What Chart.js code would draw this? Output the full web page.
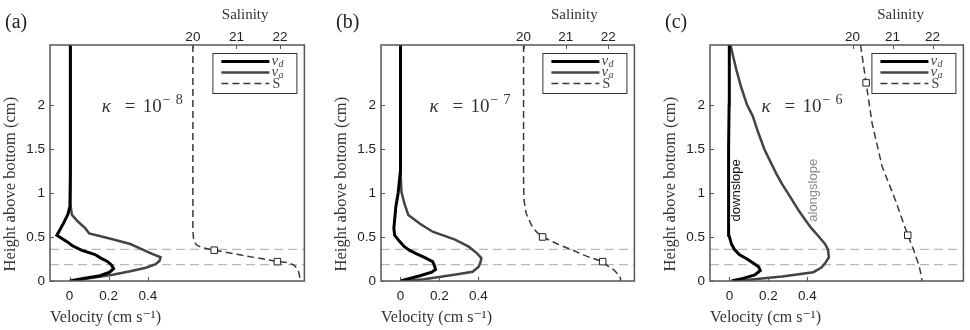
<!DOCTYPE html>
<html><head><meta charset="utf-8">
<script src="https://cdn.jsdelivr.net/npm/chart.js@4.4.1/dist/chart.umd.min.js"></script>
<style>
html,body{margin:0;padding:0;background:#fff;width:970px;height:330px;overflow:hidden}
canvas{position:absolute;top:0}
</style></head><body>
<canvas id="ca" width="310" height="330" style="left:0px"></canvas>
<canvas id="cb" width="309" height="330" style="left:331px"></canvas>
<canvas id="cc" width="309" height="330" style="left:660px"></canvas>
<script>
// ---------- tick labels ----------
const velTicks = [0, 0.2, 0.4];
const salTicks = [20, 21, 22];
const heightTicks = [0, 0.5, 1, 1.5, 2];
const layerHeights = [0.36, 0.185];

// ---------- panel (a), kappa = 1e-8 ----------
const vdA_h   = [0, 0.03, 0.06, 0.10, 0.14, 0.18, 0.22, 0.26, 0.30, 0.35, 0.40, 0.45, 0.52, 0.58, 0.66, 0.76, 0.85, 1.2, 2.68];
const vdA_vel = [0, 0.07, 0.155, 0.205, 0.225, 0.215, 0.195, 0.16, 0.13, 0.06, 0.015, -0.015, -0.065, -0.05, -0.03, -0.008, 0.002, 0.004, 0.004];
const vaA_h   = [0, 0.03, 0.07, 0.11, 0.15, 0.19, 0.23, 0.27, 0.32, 0.37, 0.42, 0.48, 0.54, 0.60, 0.67, 0.75, 0.86, 1.2, 2.68];
const vaA_vel = [0.02, 0.10, 0.22, 0.31, 0.39, 0.44, 0.46, 0.465, 0.41, 0.36, 0.31, 0.21, 0.10, 0.08, 0.045, 0.012, 0.005, 0.004, 0.004];
const sA_h    = [2.68, 0.6, 0.5, 0.45, 0.41, 0.38, 0.35, 0.30, 0.26, 0.22, 0.21, 0.18, 0.14, 0.10, 0.05, 0];
const sA_sal  = [20.0, 20.0, 20.01, 20.03, 20.08, 20.2, 20.49, 21.05, 21.5, 21.94, 22.17, 22.32, 22.4, 22.43, 22.45, 22.46];
const mA_h    = [0.35, 0.22];
const mA_sal  = [20.49, 21.94];

// ---------- panel (b), kappa = 1e-7 ----------
const vdB_h   = [0, 0.06, 0.10, 0.13, 0.17, 0.22, 0.27, 0.31, 0.35, 0.39, 0.45, 0.52, 0.6, 0.84, 1.0, 1.26, 2.68];
const vdB_vel = [0, 0.10, 0.16, 0.18, 0.175, 0.165, 0.12, 0.08, 0.045, 0.02, -0.005, -0.03, -0.034, -0.024, -0.012, 0, 0];
const vaB_h   = [0, 0.02, 0.05, 0.08, 0.105, 0.16, 0.21, 0.26, 0.32, 0.39, 0.47, 0.56, 0.65, 0.75, 0.88, 1.01, 1.26, 2.68];
const vaB_vel = [0.03, 0.12, 0.216, 0.30, 0.37, 0.40, 0.41, 0.415, 0.39, 0.35, 0.28, 0.165, 0.10, 0.04, 0.02, 0.005, 0, 0];
const sB_h    = [2.68, 1.1, 0.92, 0.77, 0.64, 0.56, 0.50, 0.42, 0.35, 0.28, 0.22, 0.16, 0.125, 0.05, 0];
const sB_sal  = [20.0, 20.0, 20.01, 20.06, 20.18, 20.30, 20.45, 20.8, 21.16, 21.5, 21.87, 22.02, 22.14, 22.28, 22.3];
const mB_h    = [0.50, 0.22];
const mB_sal  = [20.45, 21.87];

// ---------- panel (c), kappa = 1e-6 ----------
const vdC_h   = [0, 0.03, 0.07, 0.12, 0.16, 0.2, 0.25, 0.3, 0.36, 0.42, 0.52, 0.7, 1.0, 1.5, 2.0, 2.68];
const vdC_vel = [0.01, 0.07, 0.13, 0.158, 0.15, 0.125, 0.09, 0.05, 0.025, 0.01, -0.003, -0.005, -0.005, -0.004, -0.002, -0.001];
const vaC_h   = [0, 0.015, 0.05, 0.1, 0.15, 0.2, 0.27, 0.36, 0.42, 0.5, 0.6, 0.69, 0.8, 0.96, 1.1, 1.22, 1.49, 1.7, 1.87, 2.0, 2.2, 2.4, 2.68];
const vaC_vel = [0.02, 0.10, 0.27, 0.43, 0.47, 0.49, 0.51, 0.505, 0.49, 0.46, 0.42, 0.39, 0.355, 0.31, 0.27, 0.24, 0.18, 0.145, 0.12, 0.09, 0.06, 0.035, 0.005];
const sC_h    = [2.68, 2.25, 1.79, 1.30, 0.92, 0.52, 0.35, 0.16, 0.03, 0];
const sC_sal  = [20.2, 20.34, 20.49, 20.74, 21.07, 21.38, 21.53, 21.67, 21.73, 21.73];
const mC_h    = [2.25, 0.52];
const mC_sal  = [20.34, 21.38];

const panels = [
  {id:'ca', tag:'(a)', exp:'−8', kappaAt:[0.164, 1.92], sMin:16.72, sMax:22.56,
   vd:[vdA_vel, vdA_h], va:[vaA_vel, vaA_h], s:[sA_sal, sA_h], m:[mA_sal, mA_h], notes:[]},
  {id:'cb', tag:'(b)', exp:'−7', kappaAt:[0.149, 1.92], sMin:16.63, sMax:22.62,
   vd:[vdB_vel, vdB_h], va:[vaB_vel, vaB_h], s:[sB_sal, sB_h], m:[mB_sal, mB_h], notes:[]},
  {id:'cc', tag:'(c)', exp:'−6', kappaAt:[0.164, 1.92], sMin:16.44, sMax:22.77,
   vd:[vdC_vel, vdC_h], va:[vaC_vel, vaC_h], s:[sC_sal, sC_h], m:[mC_sal, mC_h],
   notes:[{text:'downslope', at:[0.037, 1.03], color:'#111'}, {text:'alongslope', at:[0.433, 1.03], color:'#8a8a8a'}]}
];

const VMIN = -0.1, VMAX = 1.2, HMAX = 2.68;
const SERIF = '"Liberation Serif", "DejaVu Serif", serif';
const SANS = '"Liberation Sans", Arial, sans-serif';

function pts(xs, ys) { return xs.map((x, i) => ({x: x, y: ys[i]})); }

const deco = {
  id: 'deco',
  afterDatasetsDraw(chart) {
    const p = chart.options.plugins.deco;
    const ctx = chart.ctx, a = chart.chartArea;
    const sx = chart.scales.x, sx2 = chart.scales.x2, sy = chart.scales.y;
    ctx.save();
    // frame
    ctx.strokeStyle = '#555'; ctx.lineWidth = 1.5; ctx.setLineDash([]);
    ctx.strokeRect(a.left, a.top, a.right - a.left, a.bottom - a.top);
    // inward ticks
    ctx.lineWidth = 1; ctx.strokeStyle = '#555';
    ctx.beginPath();
    sy.ticks.forEach(t => { const y = Math.round(sy.getPixelForValue(t.value)) + 0.5; ctx.moveTo(a.left, y); ctx.lineTo(a.left + 4, y); });
    sx.ticks.forEach(t => { const x = Math.round(sx.getPixelForValue(t.value)) + 0.5; ctx.moveTo(x, a.bottom); ctx.lineTo(x, a.bottom - 4); });
    sx2.ticks.forEach(t => { const x = Math.round(sx2.getPixelForValue(t.value)) + 0.5; ctx.moveTo(x, a.top); ctx.lineTo(x, a.top + 4); });
    ctx.stroke();

    // panel tag
    ctx.fillStyle = '#222'; ctx.textBaseline = 'alphabetic'; ctx.textAlign = 'left';
    ctx.font = '20px ' + SERIF;
    ctx.fillText(p.tag, a.left - 45, 28);
    // Salinity label
    ctx.font = '15px ' + SERIF; ctx.textAlign = 'center'; ctx.fillStyle = '#333';
    ctx.fillText('Salinity', sx2.getPixelForValue(21.2), 18.5);

    // height axis title (placed as in the original figure, below the axis centre)
    ctx.save();
    ctx.translate(a.left - 39, sy.getPixelForValue(1.1));
    ctx.rotate(-Math.PI / 2);
    ctx.font = '16.5px ' + SERIF; ctx.fillStyle = '#333'; ctx.textAlign = 'center'; ctx.textBaseline = 'middle';
    ctx.fillText('Height above bottom (cm)', 0, 0);
    ctx.restore();

    // kappa annotation
    const kx = sx.getPixelForValue(p.kappaAt[0]), ky = sy.getPixelForValue(p.kappaAt[1]);
    ctx.textAlign = 'left'; ctx.fillStyle = '#333';
    ctx.font = 'italic 19px ' + SERIF; ctx.fillText('κ', kx, ky);
    ctx.font = '19px ' + SERIF; ctx.fillText('=', kx + 23, ky); ctx.fillText('10', kx + 41, ky);
    ctx.font = '14px ' + SERIF; ctx.fillText(p.exp.charAt(0), kx + 61, ky - 8);
    ctx.fillText(p.exp.slice(1), kx + 74, ky - 8);

    // rotated notes
    p.notes.forEach(n => {
      ctx.save();
      ctx.translate(sx.getPixelForValue(n.at[0]), sy.getPixelForValue(n.at[1]));
      ctx.rotate(-Math.PI / 2);
      ctx.font = '13px ' + SANS; ctx.fillStyle = n.color; ctx.textAlign = 'center'; ctx.textBaseline = 'middle';
      ctx.fillText(n.text, 0, 0);
      ctx.restore();
    });

    // legend
    const ds = chart.data.datasets;
    const L = a.right - 92, T = a.top + 8, W = 84, H = 40;
    ctx.fillStyle = '#fff'; ctx.fillRect(L, T, W, H);
    ctx.strokeStyle = '#333'; ctx.lineWidth = 1; ctx.strokeRect(L + 0.5, T + 0.5, W, H);
    const entries = [
      {d: ds[1], lab: 'v', sub: 'd'},
      {d: ds[2], lab: 'v', sub: 'a'},
      {d: ds[3], lab: 'S', sub: ''}
    ];
    entries.forEach((e, i) => {
      const y = T + 8.5 + i * 11;
      ctx.strokeStyle = e.d.borderColor; ctx.lineWidth = e.d.borderWidth;
      ctx.setLineDash(e.d.borderDash || []);
      ctx.beginPath(); ctx.moveTo(L + 9, y); ctx.lineTo(L + 57, y); ctx.stroke();
      ctx.setLineDash([]);
      ctx.fillStyle = '#444'; ctx.textBaseline = 'alphabetic'; ctx.textAlign = 'left';
      if (e.sub) {
        ctx.font = 'italic 15px ' + SERIF; ctx.fillText(e.lab, L + 59, y + 3);
        ctx.font = 'italic 10px ' + SERIF; ctx.fillText(e.sub, L + 66, y + 5);
      } else {
        ctx.font = '14px ' + SERIF; ctx.fillText(e.lab, L + 60, y + 4.5);
      }
    });
    ctx.restore();
  }
};

function tickSetter(list) { return s => { s.ticks = list.map(v => ({value: v})); }; }

panels.forEach(p => {
  const hl = layerHeights.map(h => ({
    data: pts([VMIN, VMAX], [h, h]), xAxisID: 'x', showLine: true, pointRadius: 0,
    borderColor: '#a8a8a8', borderWidth: 1, borderDash: [9, 5], order: 5
  }));
  const tickFont = {family: SANS, size: 13.5};
  new Chart(document.getElementById(p.id), {
    type: 'scatter',
    data: { datasets: [
      {label: 'markers', data: pts(p.m[0], p.m[1]), xAxisID: 'x2', showLine: false,
       pointStyle: 'rect', pointRadius: 4.6, pointBorderColor: '#222', pointBackgroundColor: '#fff', pointBorderWidth: 1, order: 0},
      {label: 'vd', data: pts(p.vd[0], p.vd[1]), xAxisID: 'x', showLine: true, pointRadius: 0,
       borderColor: '#000', borderWidth: 3, tension: 0, order: 1},
      {label: 'va', data: pts(p.va[0], p.va[1]), xAxisID: 'x', showLine: true, pointRadius: 0,
       borderColor: '#444', borderWidth: 2.5, tension: 0, order: 2},
      {label: 'S', data: pts(p.s[0], p.s[1]), xAxisID: 'x2', showLine: true, pointRadius: 0,
       borderColor: '#3a3a3a', borderWidth: 1.5, borderDash: [7, 4], tension: 0, order: 3},
      ...hl
    ]},
    options: {
      responsive: false, animation: false, devicePixelRatio: 1,
      layout: {padding: {left: 0, right: 4, top: 0, bottom: 0}},
      plugins: {legend: {display: false}, tooltip: {enabled: false}, deco: p},
      scales: {
        x: {type: 'linear', axis: 'x', position: 'bottom', min: VMIN, max: VMAX,
            grid: {display: false, drawTicks: false}, border: {display: false},
            afterBuildTicks: tickSetter(velTicks), afterFit: s => { s.height = 49; },
            ticks: {font: tickFont, color: '#222', padding: 7, maxRotation: 0, autoSkip: false, callback: v => String(v)},
            title: {display: true, text: 'Velocity (cm s⁻¹)', align: 'start', color: '#333',
                    font: {family: SERIF, size: 16}, padding: {top: 4, bottom: 3}}},
        x2: {type: 'linear', axis: 'x', position: 'top', min: p.sMin, max: p.sMax,
             grid: {display: false, drawTicks: false}, border: {display: false},
             afterBuildTicks: tickSetter(salTicks), afterFit: s => { s.height = 45; },
             ticks: {font: tickFont, color: '#222', padding: 0, maxRotation: 0, autoSkip: false, callback: v => String(v)}},
        y: {type: 'linear', position: 'left', min: 0, max: HMAX,
            grid: {display: false, drawTicks: false}, border: {display: false},
            afterBuildTicks: tickSetter(heightTicks), afterFit: s => { s.width = 50; },
            ticks: {font: tickFont, color: '#222', padding: 5, autoSkip: false, callback: v => String(v)},
            title: {display: false}}
      }
    },
    plugins: [deco]
  });
});
</script>
</body></html>
